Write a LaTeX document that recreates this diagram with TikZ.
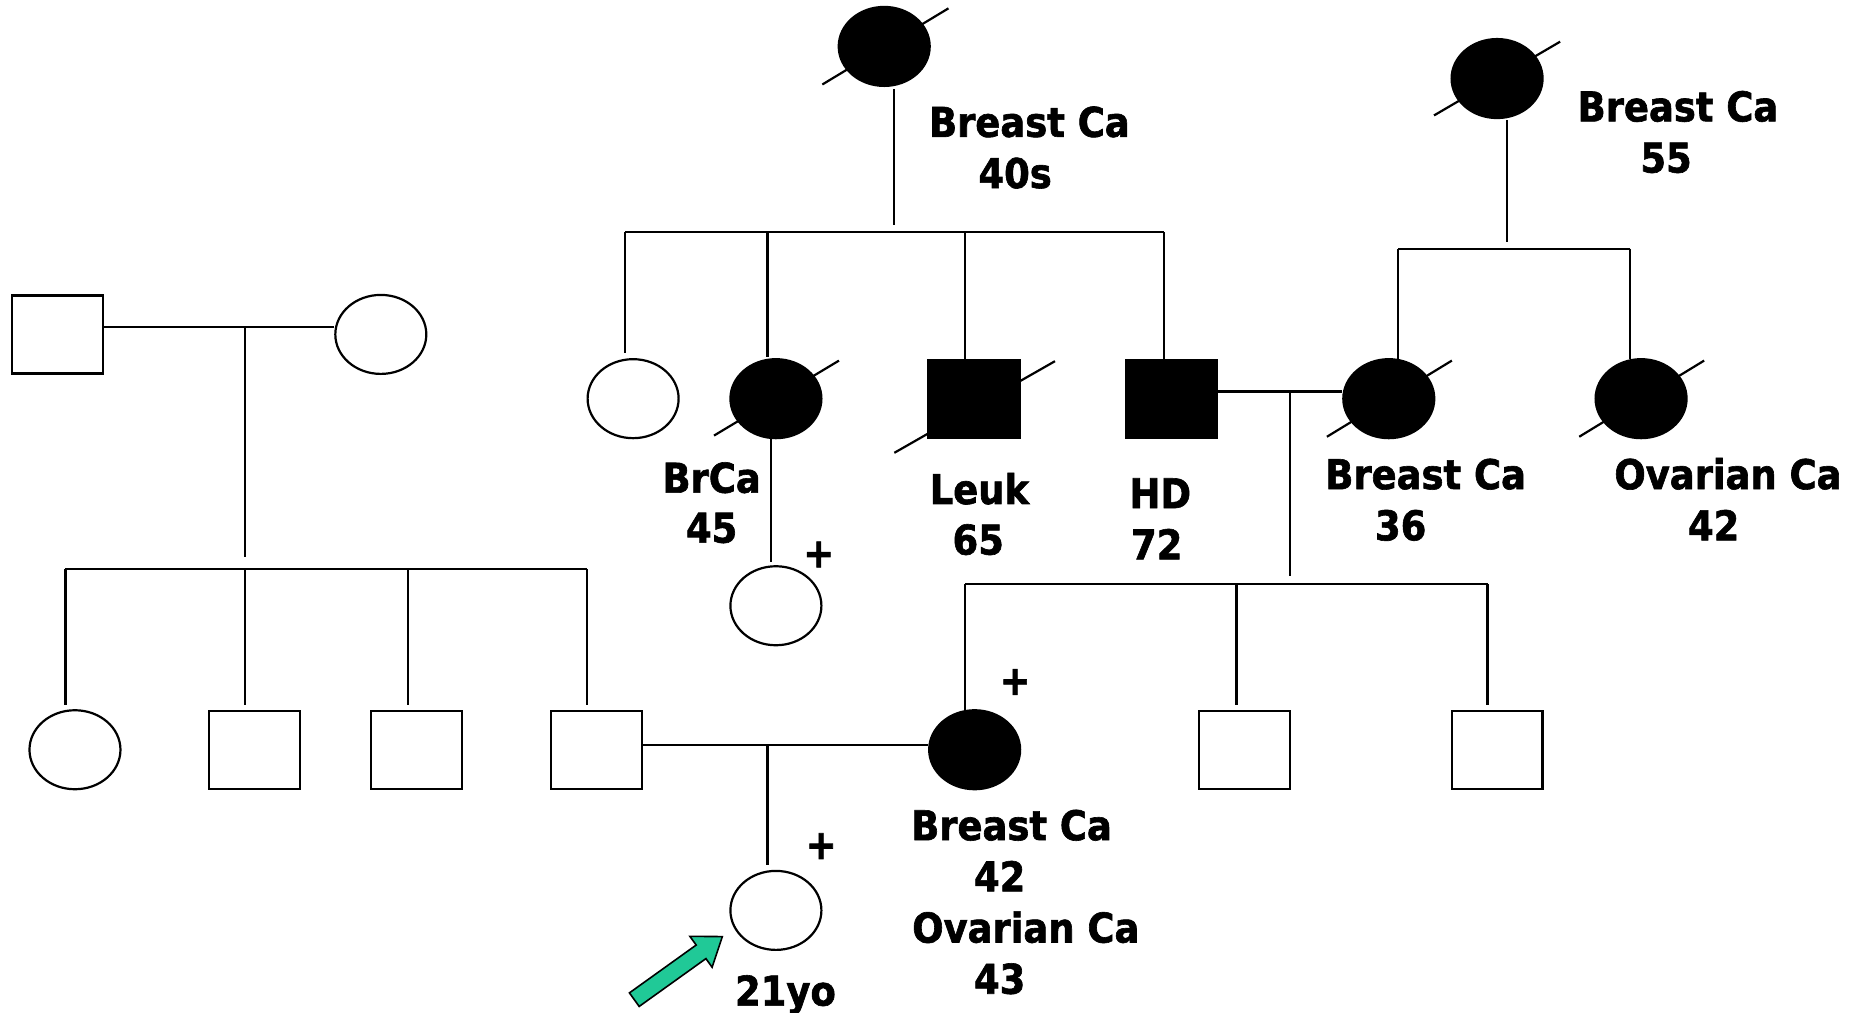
\documentclass[tikz,border=0pt]{standalone}
\usepackage{fontspec}
\newfontfamily\lblfont{DejaVu Sans}[FakeStretch=0.9, BoldFeatures={FakeBold=1.5}]
\usetikzlibrary{shapes.geometric}
\definecolor{arrowgreen}{RGB}{32,201,151}
\tikzset{
  ln/.style={line width=2.2pt},
  fem/.style={ellipse, draw, line width=2.2pt, minimum width=91pt, minimum height=79pt, inner sep=0pt},
  mal/.style={rectangle, draw, line width=2.2pt, minimum width=91pt, minimum height=78pt, inner sep=0pt},
  aff/.style={fill=black},
  lbl/.style={anchor=base, inner sep=0pt, font=\lblfont\bfseries\fontsize{41}{51}\selectfont},
  plus/.style={anchor=center, inner sep=0pt, font=\lblfont\bfseries\fontsize{41}{51}\selectfont},
}
\begin{document}
\begin{tikzpicture}[x=1.1901pt, y=-1.1901pt]
\useasboundingbox (0,0) rectangle (1568,851);
% ---------- left family ----------
\node[mal] (A1) at (48,281) {};
\node[fem] (A2) at (320,281) {};
\coordinate (m1) at (206,275);
\coordinate (m1b) at (206,468);
\draw[ln] (A1.east |- m1) -- (A2.west |- m1);
\draw[ln] (m1) -- (m1b);
\node[fem] (B1) at (63,630) {};
\node[mal] (B2) at (214,630) {};
\node[mal] (B3) at (350,630) {};
\node[mal] (B4) at (501,630) {};
\coordinate (s1L) at (55,478);
\coordinate (s1R) at (493,478);
\draw[ln] (s1L) -- (s1R);
\draw[ln] (s1L) -- (55,592);
\draw[ln] (206,478) -- (206,592);
\draw[ln] (343,478) -- (343,592);
\draw[ln] (s1R) -- (493,592);
% ---------- middle top ----------
\node[fem,aff] (C0) at (743,39) {};
\draw[ln] ([shift={(-52,32)}]C0.center) -- ([shift={(54,-32)}]C0.center);
\coordinate (c0d) at (751,75);
\coordinate (s2) at (751,189);
\draw[ln] (c0d) -- (s2);
\coordinate (s2L) at (525,195);
\coordinate (s2R) at (978,195);
\draw[ln] (s2L) -- (s2R);
\node[fem] (C1) at (532,335) {};
\node[fem,aff] (C2) at (652,335) {};
\node[mal,aff] (C3) at (818.5,335.5) {};
\node[mal,aff] (C4) at (984.5,335.5) {};
\draw[ln] ([shift={(-52,31)}]C2.center) -- ([shift={(53,-32)}]C2.center);
\draw[ln] ([shift={(-67,45)}]C3.center) -- ([shift={(68,-32)}]C3.center);
\draw[ln] (s2L) -- (525,297);
\draw[ln] (645,195) -- (645,300);
\draw[ln] (811,195) -- (811,303);
\draw[ln] (s2R) -- (978,303);
\node[fem] (D1) at (652,509) {};
\draw[ln] (648,368) -- (648,472);
% ---------- right top ----------
\node[fem,aff] (E0) at (1258,66) {};
\draw[ln] ([shift={(-53,31)}]E0.center) -- ([shift={(53,-31)}]E0.center);
\draw[ln] (1266,101) -- (1266,203);
\coordinate (s3L) at (1175,209);
\coordinate (s3R) at (1370,209);
\draw[ln] (s3L) -- (s3R);
\draw[ln] (s3L) -- (1175,302);
\draw[ln] (s3R) -- (1370,302);
\node[fem,aff] (E1) at (1167,335) {};
\node[fem,aff] (E2) at (1379,335) {};
\draw[ln] ([shift={(-52,32)}]E1.center) -- ([shift={(53,-32)}]E1.center);
\draw[ln] ([shift={(-52,32)}]E2.center) -- ([shift={(53,-32)}]E2.center);
% ---------- HD marriage ----------
\coordinate (m2) at (1084,329);
\draw[ln] (C4.east |- m2) -- (E1.west |- m2);
\draw[ln] (m2) -- (1084,484);
\coordinate (s4L) at (811,491);
\coordinate (s4R) at (1250,491);
\draw[ln] (s4L) -- (s4R);
\node[fem,aff] (F1) at (819,630) {};
\node[mal] (F2) at (1046,630.5) {};
\node[mal] (F3) at (1258,630.5) {};
\draw[ln] (s4L) -- (811,598);
\draw[ln] (1039,491) -- (1039,592);
\draw[ln] (s4R) -- (1250,592);
% ---------- bottom marriage ----------
\coordinate (m3) at (645,626);
\draw[ln] (B4.east |- m3) -- (F1.west |- m3);
\node[fem] (G) at (652,765) {};
\draw[ln] (m3) -- (645,727);
% ---------- proband arrow ----------
\coordinate (tip) at (607,787);
\draw[line width=1.6pt, fill=arrowgreen, line join=miter]
  (528.9,834.3) -- (585.0,794.1) -- (579.7,786.8) -- (tip) -- (598.4,812.8) -- (593.2,805.5) -- (537.1,845.7) -- cycle;
% ---------- labels ----------
\node[lbl] (t1) at (865,115) {Breast Ca};
\node[lbl] (t2) at (853,158) {40s};
\node[lbl] (t3) at (1410,102) {Breast Ca};
\node[lbl] (t4) at (1400,145) {55};
\node[lbl] (t5) at (598,414) {BrCa};
\node[lbl] (t6) at (598,456) {45};
\node[lbl] (t7) at (823,423.5) {Leuk};
\node[lbl] (t8) at (822,466) {65};
\node[lbl] (t9) at (975,427) {HD};
\node[lbl] (t10) at (972,470) {72};
\node[lbl] (t11) at (1198,411) {Breast Ca};
\node[lbl] (t12) at (1177,454) {36};
\node[lbl] (t13) at (1452,411) {Ovarian Ca};
\node[lbl] (t14) at (1440,454) {42};
\node[lbl] (t15) at (850,706) {Breast Ca};
\node[lbl] (t16) at (840,749) {42};
\node[lbl] (t17) at (862,792) {Ovarian Ca};
\node[lbl] (t18) at (840,835) {43};
\node[lbl] (t19) at (660,845) {21yo};
\node[plus] (p1) at (688,466) {+};
\node[plus] (p2) at (853,573) {+};
\node[plus] (p3) at (690,711) {+};
\end{tikzpicture}
\end{document}
